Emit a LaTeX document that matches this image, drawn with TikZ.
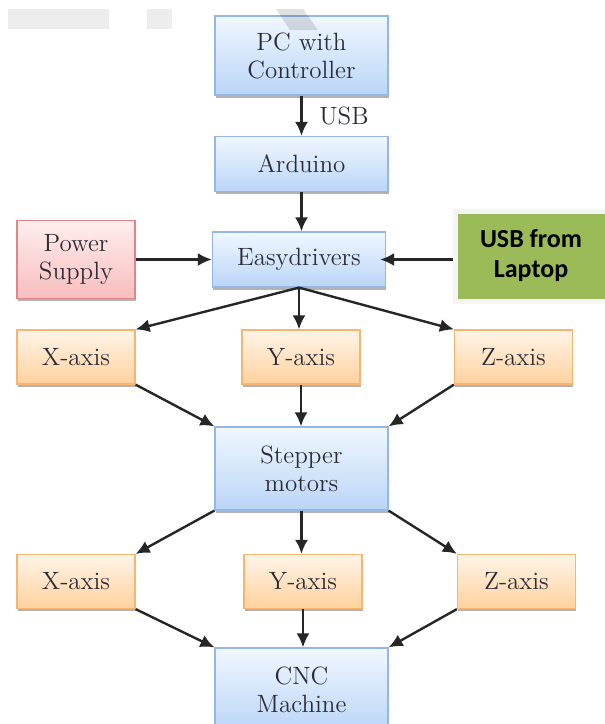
\documentclass[tikz,border=0pt]{standalone}
\usepackage{fontspec}
\newfontfamily\laptopfont{Carlito}
\usetikzlibrary{arrows.meta,shadows}
\definecolor{textgray}{HTML}{2C2C36}
\definecolor{bluetop}{HTML}{F0F7FF}
\definecolor{bluebot}{HTML}{BAD5F7}
\definecolor{blueedge}{HTML}{93B8E6}
\definecolor{orangetop}{HTML}{FFF4E8}
\definecolor{orangebot}{HTML}{FFD29E}
\definecolor{orangeedge}{HTML}{F7B56F}
\definecolor{redtop}{HTML}{FFEEEE}
\definecolor{redbot}{HTML}{F8BDBD}
\definecolor{rededge}{HTML}{E08585}
\definecolor{lapgreen}{HTML}{9BBB59}
\begin{document}
\begin{tikzpicture}[
		x=0.5pt, y=-0.5pt,
		font=\fontsize{12.5}{14}\selectfont,
		box/.style={rectangle, align=center, text=textgray, line width=0.6pt, inner sep=0pt,
				drop shadow={shadow xshift=0.3pt, shadow yshift=-1.4pt, opacity=0.3, fill=black}},
		bluebox/.style={box, draw=blueedge, top color=bluetop, bottom color=bluebot, minimum width=86.5pt},
		axisbox/.style={box, draw=orangeedge, top color=orangetop, bottom color=orangebot,
				minimum width=59pt, minimum height=27pt},
		powerbox/.style={box, draw=rededge, top color=redtop, bottom color=redbot,
				minimum width=59pt, minimum height=39pt},
		laptopbox/.style={rectangle, align=center, fill=lapgreen, draw=black!4, line width=2.5pt,
				minimum width=76pt, minimum height=45pt, inner sep=0pt,
				font=\laptopfont\bfseries\fontsize{13}{15}\selectfont,
				drop shadow={shadow xshift=0pt, shadow yshift=-1.5pt, opacity=0.4, fill=black!60!lapgreen}},
		arrow/.style={-{Latex[length=7pt,width=6.5pt]}, line width=1.2pt, draw=black!85}
	]
	\useasboundingbox (0,0) rectangle (605,724);
	% grey bars at the top
	\fill[black!7] (8,9) rectangle (109,29);
	\fill[black!7] (147,9) rectangle (172,29);

	\node[bluebox, minimum height=39.5pt] (pc) at (301.5,55.5) {PC with\\Controller};
	\node[bluebox, minimum height=27.5pt] (ard) at (301.5,164) {Arduino};
	\node[bluebox, minimum height=27.5pt] (easy) at (299,259.5) {Easydrivers};
	\node[powerbox] (power) at (76,259.5) {Power\\Supply};
	\node[laptopbox] (laptop) at (531,256) {USB from\\Laptop};

	\node[axisbox] (xa) at (76,357) {X-axis};
	\node[axisbox] (ya) at (301,357) {Y-axis};
	\node[axisbox] (za) at (513.5,357) {Z-axis};

	\node[bluebox, minimum height=41.5pt] (motors) at (301.5,468.5) {Stepper\\motors};

	\node[axisbox] (xb) at (76,581.5) {X-axis};
	\node[axisbox] (yb) at (303,581.5) {Y-axis};
	\node[axisbox] (zb) at (516.5,581.5) {Z-axis};

	\node[bluebox, minimum height=42pt] (cnc) at (301.5,690) {CNC\\Machine};

	% faint mark over the top box
	\fill[black, opacity=0.12] (276,9) -- (303,9) -- (318,30) -- (290,30) -- cycle;

	\draw[arrow] (pc) -- node[right=5pt, text=textgray] {USB} (ard);
	\draw[arrow] (ard.south) -- (ard.south |- easy.north);
	\draw[arrow] (power) -- (easy);
	\draw[arrow] (laptop.west |- easy) -- ([xshift=-3pt]easy.east);

	\draw[arrow] (easy.south) -- (xa.north east);
	\draw[arrow] (easy.south) -- (easy.south |- ya.north);
	\draw[arrow] (easy.south) -- (za.north west);

	\draw[arrow] (xa.south east) -- (motors.north west);
	\draw[arrow] (ya.south) -- (ya.south |- motors.north);
	\draw[arrow] (za.south west) -- (motors.north east);

	\draw[arrow] (motors.south west) -- (xb.north east);
	\draw[arrow] (motors.south) -- (yb.north -| motors.south);
	\draw[arrow] (motors.south east) -- (zb.north west);

	\draw[arrow] (xb.south east) -- (cnc.north west);
	\draw[arrow] (yb.south) -- (yb.south |- cnc.north);
	\draw[arrow] (zb.south west) -- (cnc.north east);
\end{tikzpicture}
\end{document}
